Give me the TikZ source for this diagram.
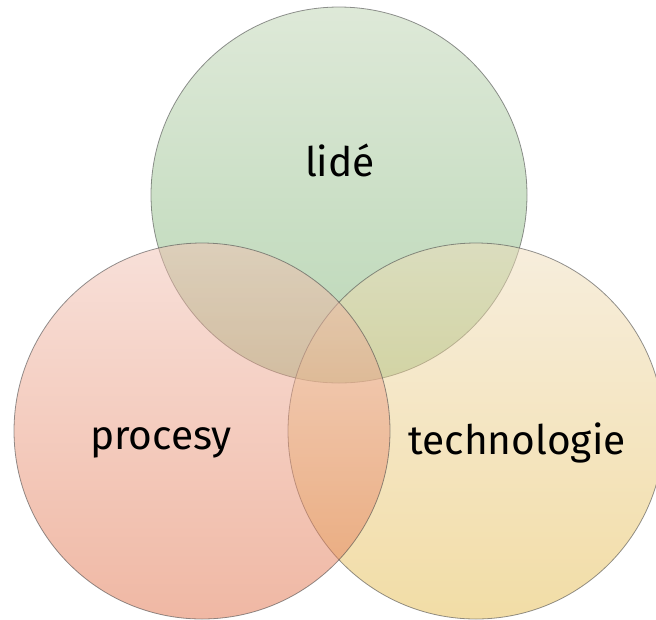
\documentclass[tikz,border=0pt]{standalone}
\usepackage{fontspec}
\setmainfont{Fira Sans}
\definecolor{greentop}{RGB}{189,211,177}
\definecolor{greenbot}{RGB}{117,175,109}
\definecolor{pinktop}{RGB}{241,193,179}
\definecolor{pinkbot}{RGB}{225,113,73}
\definecolor{yellowtop}{RGB}{239,221,187}
\definecolor{yellowbot}{RGB}{229,187,77}
\tikzset{
  set/.style={circle, draw=black!70, line width=0.6pt, minimum size=282pt,
    inner sep=0pt, outer sep=0pt, fill opacity=0.5, draw opacity=0.6},
  setlabel/.style={font=\fontsize{30.5}{36}\selectfont, text=black},
}
\begin{document}
\begin{tikzpicture}[x=0.75pt,y=-0.75pt]
      \useasboundingbox (0,0) rectangle (656,619);
      \node[set, top color=greentop, bottom color=greenbot] (lide) at (339,195) {};
      \node[set, top color=yellowtop, bottom color=yellowbot] (tech) at (476,431) {};
      \node[set, top color=pinktop, bottom color=pinkbot] (procesy) at (202,431) {};
      \node[setlabel] (lidetext) at (340,160) {lidé};
      \node[setlabel] (procesytext) at (161,443) {procesy};
      \node[setlabel] (techtext) at (517,443) {technologie};
    \end{tikzpicture}
\end{document}
